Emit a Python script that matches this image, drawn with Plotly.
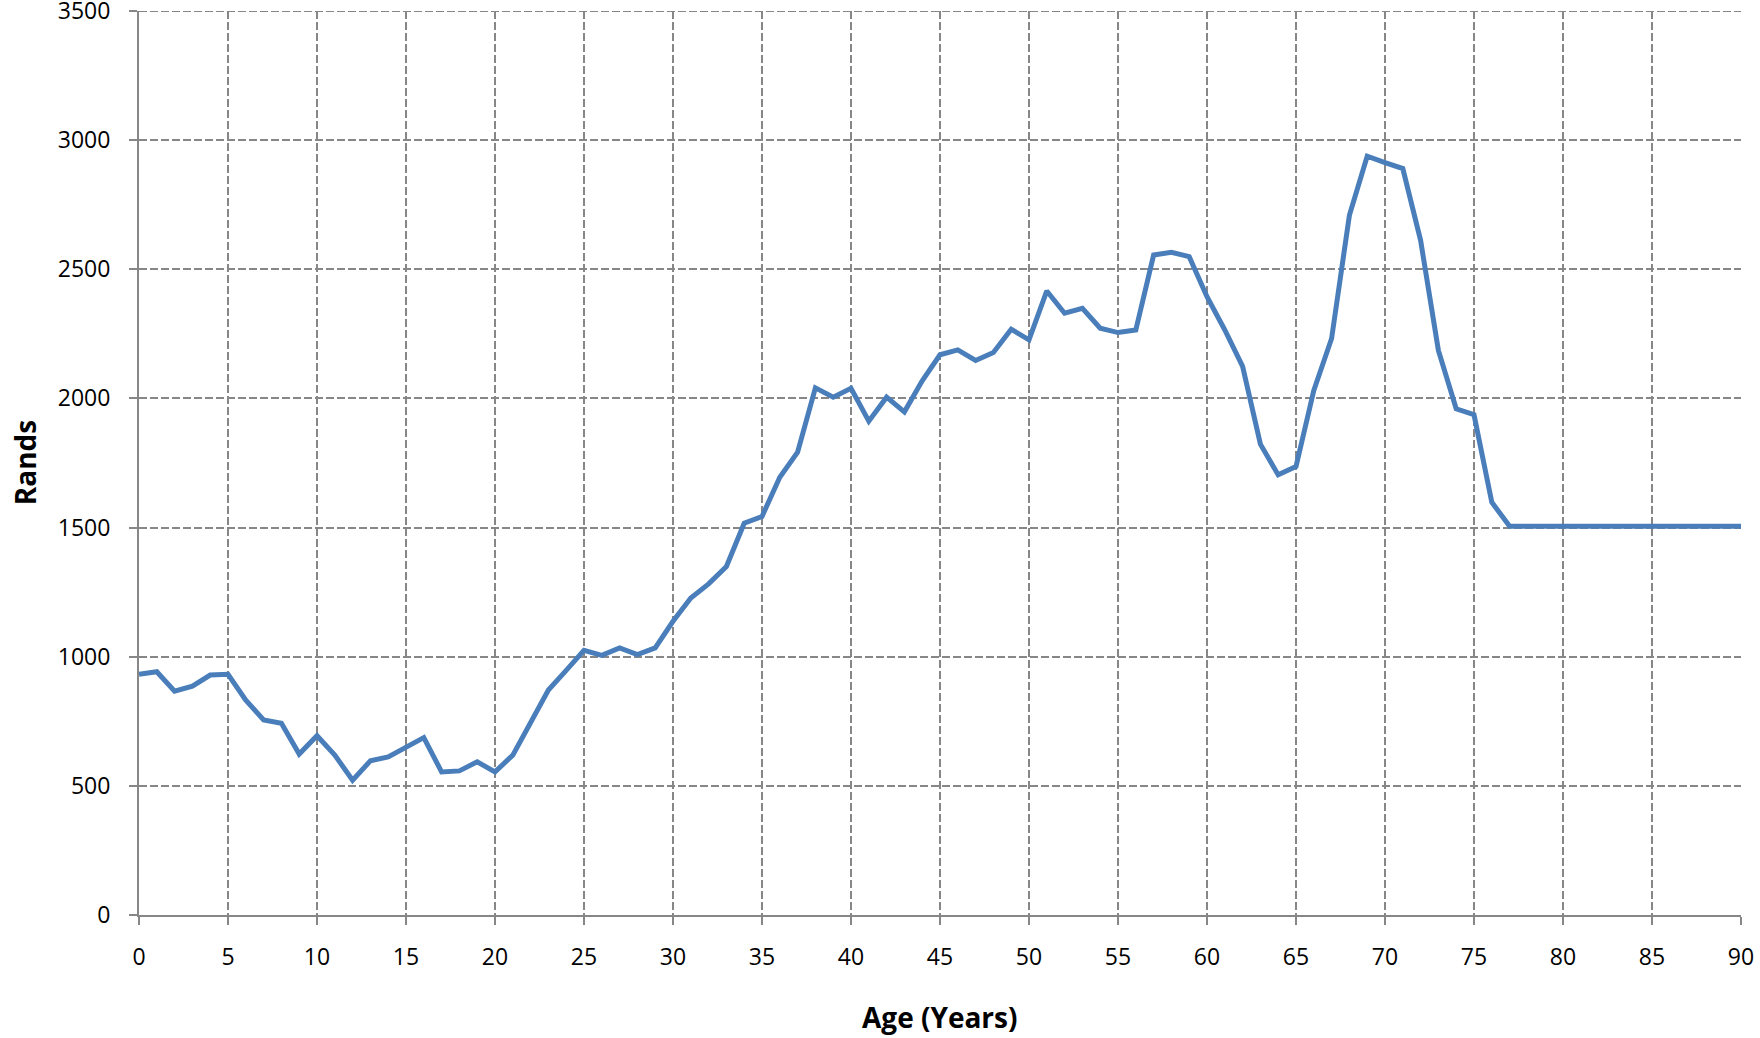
import plotly.graph_objects as go

# age in years, 0..90
ages = list(range(0, 91))

# monthly amount in rands
rands = [
    932, 942, 867, 886, 929, 932, 832, 755, 742, 623,   # 0-9
    694, 619, 522, 597, 612, 647, 687, 554, 558, 593,   # 10-19
    554, 619, 748, 871, 947, 1025, 1005, 1034, 1008, 1034,  # 20-29
    1137, 1227, 1282, 1349, 1517, 1543, 1695, 1792, 2041, 2005,  # 30-39
    2039, 1912, 2005, 1948, 2068, 2169, 2188, 2147, 2178, 2268,  # 40-49
    2227, 2416, 2330, 2349, 2272, 2255, 2265, 2555, 2566, 2549,  # 50-59
    2394, 2265, 2124, 1823, 1704, 1736, 2031, 2232, 2709, 2938,  # 60-69
    2913, 2890, 2612, 2186, 1960, 1937, 1598, 1505, 1505, 1505,  # 70-79
    1505, 1505, 1505, 1505, 1505, 1505, 1505, 1505, 1505, 1505,  # 80-89
    1505,  # 90
]

x_ticks = list(range(0, 91, 5))
y_ticks = list(range(0, 3501, 500))

FONT = "Open Sans"
GRID = "#878787"
DASH = "8px,3px"

fig = go.Figure()
fig.add_trace(go.Scatter(
    x=ages, y=rands,
    mode="lines",
    line=dict(color="#4a7ebb", width=5),
    showlegend=False,
))

fig.update_layout(
    width=1760, height=1038,
    margin=dict(l=139, r=19, t=11, b=123),
    plot_bgcolor="white",
    paper_bgcolor="white",
    font=dict(family=FONT, size=23, color="black"),
)

# plotly leaves out the gridline on the top edge, so draw it here
fig.add_shape(type="line", xref="paper", yref="y", x0=0, x1=1, y0=3500, y1=3500,
              line=dict(color=GRID, width=2, dash=DASH), layer="below")

# axis titles as annotations so they sit exactly where the reference has them
fig.add_annotation(text="<b>Age (Years)</b>", xref="paper", yref="paper",
                   x=0.5, y=-0.113, xanchor="center", yanchor="middle",
                   showarrow=False, font=dict(family=FONT, size=28))
fig.add_annotation(text="<b>Rands</b>", xref="paper", yref="paper",
                   x=-0.071, y=0.5, xanchor="center", yanchor="middle",
                   textangle=-90, showarrow=False, font=dict(family=FONT, size=28))

fig.update_xaxes(
    range=[0, 90],
    tickvals=x_ticks,
    ticks="outside", ticklen=8, tickwidth=2, tickcolor=GRID,
    ticklabelstandoff=12, ticklabeloverflow="allow",
    showline=True, linecolor=GRID, linewidth=2,
    showgrid=True, gridcolor=GRID, gridwidth=2, griddash=DASH,
    zeroline=False, automargin=False,
)
fig.update_yaxes(
    range=[0, 3500],
    tickvals=y_ticks,
    ticks="outside", ticklen=8, tickwidth=2, tickcolor=GRID,
    ticklabelstandoff=14, ticklabeloverflow="allow",
    showline=True, linecolor=GRID, linewidth=2,
    showgrid=True, gridcolor=GRID, gridwidth=2, griddash=DASH,
    zeroline=False, automargin=False,
)

# the page's default body margin would shift the figure by 8px
fig.write_html("out.html", config={"displayModeBar": False},
               post_script="document.body.style.margin='0';")
